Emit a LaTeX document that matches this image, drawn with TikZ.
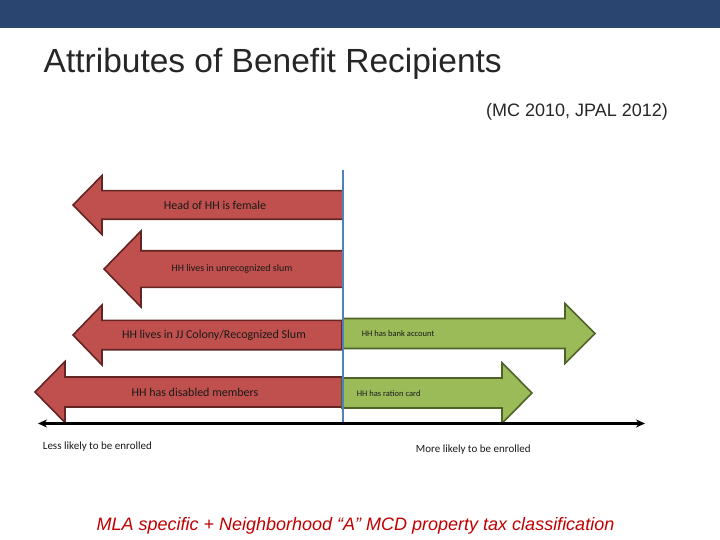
\documentclass[tikz,border=0pt]{standalone}
\usepackage{fontspec}
\setmainfont{Liberation Sans}
\newfontfamily\calibrifont{Carlito}
\usetikzlibrary{arrows.meta}
\definecolor{topbar}{HTML}{2B4571}
\definecolor{titlegray}{HTML}{262626}
\definecolor{redfill}{HTML}{C0504D}
\definecolor{redline}{HTML}{632523}
\definecolor{greenfill}{HTML}{9BBB59}
\definecolor{greenline}{HTML}{4F6228}
\definecolor{divider}{HTML}{4F81BD}
\definecolor{notered}{HTML}{C00000}
\tikzset{
  redarrow/.style={draw=redline, fill=redfill, line width=1.6pt},
  greenarrow/.style={draw=greenline, fill=greenfill, line width=1.6pt},
  barlabel/.style={font=\calibrifont\fontsize{12}{14}\selectfont, text=black!90, inner sep=0pt},
  smalllabel/.style={barlabel, font=\calibrifont\fontsize{8.5}{10}\selectfont},
  axislabel/.style={barlabel, font=\calibrifont\fontsize{11}{13}\selectfont},
  axis/.style={-{Stealth[length=9pt,width=8pt]}, line width=2.2pt},
}
% style, tip x, mid y, head base x, tail x, half shaft, half head
\newcommand{\fatarrow}[7]{%
  \draw[#1] (#2,#3) -- (#4,#3-#7) -- (#4,#3-#6) -- (#5,#3-#6) -- (#5,#3+#6) -- (#4,#3+#6) -- (#4,#3+#7) -- cycle;}
\begin{document}
\begin{tikzpicture}[x=1pt, y=-1pt]
  \useasboundingbox (0,0) rectangle (720,540);
  \fill[topbar] (0,0) rectangle (720,28.3);

  \node[anchor=base west, inner sep=0pt, text=titlegray, font=\fontsize{33.5}{40}\selectfont] (title) at (43.5,72.5) {Attributes of Benefit Recipients};
  \node[anchor=base east, inner sep=0pt, text=titlegray, font=\fontsize{18}{22}\selectfont] (source) at (668,116.7) {(MC 2010, JPAL 2012)};

  % less likely side
  \fatarrow{redarrow}{73}{205}{102}{343}{14.3}{29.5}
  \fatarrow{redarrow}{104}{269}{141}{343}{18.3}{38}
  \fatarrow{redarrow}{73}{335}{102}{342}{14.7}{30}
  \fatarrow{redarrow}{35}{392}{65}{342}{15}{30.5}
  % more likely side
  \fatarrow{greenarrow}{595}{333.5}{565}{343}{15}{30}
  \fatarrow{greenarrow}{532}{393}{502}{342}{15}{30.3}

  \node[barlabel] (female) at (215,205) {Head of HH is female};
  \node[barlabel, font=\calibrifont\fontsize{10}{12}\selectfont] (unrecog) at (232,269) {HH lives in unrecognized slum};
  \node[barlabel] (jjcolony) at (214,335) {HH lives in JJ Colony/Recognized Slum};
  \node[barlabel] (disabled) at (195,392) {HH has disabled members};
  \node[smalllabel, anchor=west] (bank) at (361.7,333.5) {HH has bank account};
  \node[smalllabel, anchor=west] (ration) at (356.7,394) {HH has ration card};

  \coordinate (divtop) at (343,170);
  \coordinate (divbot) at (343,423.5);
  \draw[divider, line width=1.5pt] (divtop) -- (divbot);

  \coordinate (axisL) at (38,423.5);
  \coordinate (axisM) at (327,423.5);
  \coordinate (axisR) at (645,423.5);
  \draw[axis] (axisM) -- (axisL);
  \draw[axis] (axisM) -- (axisR);

  \node[axislabel, anchor=west] (less) at (42.7,446.7) {Less likely to be enrolled};
  \node[axislabel] (more) at (473.3,450) {More likely to be enrolled};

  \node[anchor=base, inner sep=0pt, text=notered, font=\itshape\fontsize{18}{22}\selectfont] (note) at (355.5,530) {MLA specific + Neighborhood “A” MCD property tax classification};
\end{tikzpicture}
\end{document}
